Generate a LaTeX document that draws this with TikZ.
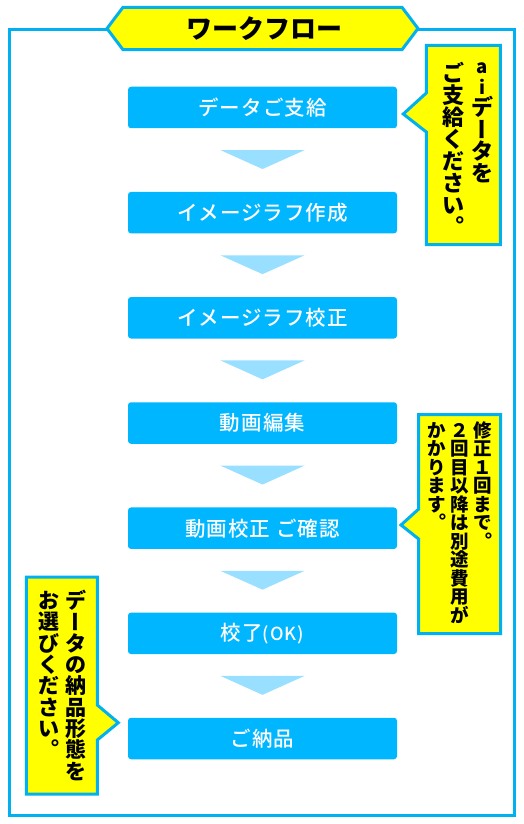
\documentclass[tikz,border=0pt]{standalone}
\usepackage{fontspec}
\usetikzlibrary{calc}
\newfontfamily\jp{Noto Sans CJK JP}
\newfontfamily\jpm[LetterSpace=5]{Noto Sans CJK JP Medium}
\definecolor{flowblue}{RGB}{0,182,255}
\definecolor{framecyan}{RGB}{0,176,240}
\definecolor{tri}{RGB}{153,223,255}
\definecolor{note}{RGB}{255,255,0}
% vertical column of characters: name, x, top y, pitch, font size, list char/style
\newcommand\vcolumn[6]{%
  \pgfmathsetmacro\vth{0.88*#5}\pgfmathsetmacro\vtd{0.12*#5}%
  \foreach \c/\s [count=\i] in {#6}{%
    \node[vchar, font=\jp\bfseries\fontsize{#5}{#5}\selectfont, text height=\vth pt, text depth=\vtd pt, \s]
      (#1-\i) at (#2, {#3 + (\i-0.5)*#4}) {\c};
  }}
\begin{document}
\begin{tikzpicture}[x=1pt,y=-1pt,
  stepbox/.style={fill=flowblue, rounded corners=3pt, minimum width=269pt, minimum height=41.5pt, inner sep=0pt, text=white, font=\jpm\fontsize{20.5}{20.5}\selectfont},
  arrowtri/.style={fill=tri},
  notebox/.style={fill=note, draw=framecyan, line width=3pt},
  framebox/.style={draw=framecyan, line width=3pt},
  vchar/.style={inner sep=0pt, text=black},
  latin/.style={vchar, font=\jp\bfseries\fontsize{18.5}{18.5}\selectfont},
  vn/.style={},
  vr/.style={rotate=90},
  vp/.style={rotate=180},
]
\useasboundingbox (0,0) rectangle (524,824);
% outer frame
\draw[framebox] (9.5,29.7) rectangle (514.5,815);
% title banner
\draw[notebox] (107,28.5) -- (123,7.3) -- (402,7.3) -- (418,28.5) -- (402,49.7) -- (123,49.7) -- cycle;
\node[font=\jp\bfseries\fontsize{26}{26}\selectfont, inner sep=0pt] (title) at (264,29) {ワークフロー};
% steps
\node[stepbox] (s1) at (262.5,107.5) {データご支給};
\node[stepbox] (s2) at (262.5,212.7) {イメージラフ作成};
\node[stepbox] (s3) at (262.5,317.8) {イメージラフ校正};
\node[stepbox] (s4) at (262.5,423.0) {動画編集};
\node[stepbox] (s5) at (262.5,528.2) {動画校正 ご確認};
\node[stepbox] (s6) at (262.5,633.3) {校了{\fontsize{18}{18}\selectfont (OK)}};
\node[stepbox] (s7) at (262.5,738.5) {ご納品};
% triangles between steps
\foreach \a/\b in {s1/s2,s2/s3,s3/s4,s4/s5,s5/s6,s6/s7}{
  \fill[arrowtri] ($(\a.south)+(-42,21.7)$) -- ($(\a.south)+(42,21.7)$) -- ($(\b.north)+(0,-22.7)$) -- cycle;
}
% callout 1
\draw[notebox] (426.3,45.3) -- (500.3,45.3) -- (500.3,244.7) -- (426.3,244.7) -- (426.3,132) -- (403.3,114) -- (426.3,93) -- cycle;
\node[latin] (n1-a) at (482.5,68) {a};
\node[latin] (n1-i) at (482.5,86.5) {i};
\vcolumn{n1r}{482.5}{96.5}{22}{22}{デ/vn,ー/vr,タ/vn,を/vn}
\vcolumn{n1l}{453}{62}{22}{22}{ご/vn,支/vn,給/vn,く/vn,だ/vn,さ/vn,い/vn,。/vp}
% callout 2
\draw[notebox] (418.7,414.7) -- (500.7,414.7) -- (500.7,633.7) -- (418.7,633.7) -- (418.7,539) -- (401,525) -- (418.7,509) -- cycle;
\vcolumn{n2a}{483}{421}{18.5}{18.5}{修/vn,正/vn,１/vn,回/vn,ま/vn,で/vn,。/vp}
\vcolumn{n2b}{460}{421}{18.5}{18.5}{２/vn,回/vn,目/vn,以/vn,降/vn,は/vn,別/vn,途/vn,費/vn,用/vn,が/vn}
\vcolumn{n2c}{437}{421}{18.5}{18.5}{か/vn,か/vn,り/vn,ま/vn,す/vn,。/vp}
% callout 3
\draw[notebox] (26.3,577) -- (97.3,577) -- (97.3,705) -- (118.3,722.7) -- (97.3,740) -- (97.3,794) -- (26.3,794) -- cycle;
\vcolumn{n3a}{76}{590}{21.3}{21}{デ/vn,ー/vr,タ/vn,の/vn,納/vn,品/vn,形/vn,態/vn,を/vn}
\vcolumn{n3b}{49}{590}{21.3}{21}{お/vn,選/vn,び/vn,く/vn,だ/vn,さ/vn,い/vn,。/vp}
\end{tikzpicture}
\end{document}
